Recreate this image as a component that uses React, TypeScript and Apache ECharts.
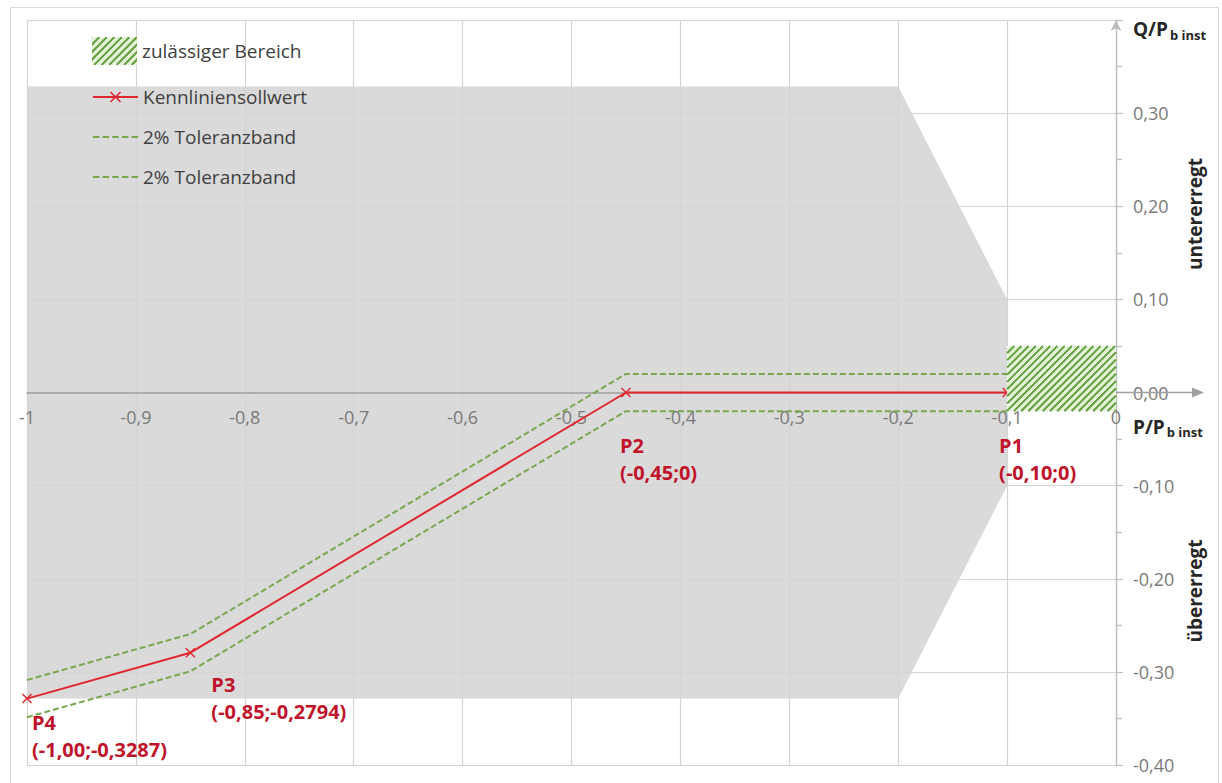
import React, { useEffect, useRef } from 'react';
import * as echarts from 'echarts';

// ---- data ----
const curveX = [-1, -0.85, -0.45, -0.1];
const curveY = [-0.3287, -0.2794, 0, 0];
const pointNames = ['P4', 'P3', 'P2', 'P1'];
const tolUpperY = [-0.3087, -0.2594, 0.02, 0.02];
const tolLowerY = [-0.3487, -0.2994, -0.02, -0.02];
const grayX = [-1, -0.2, -0.1, -0.1, -0.2, -1];
const grayY = [0.3287, 0.3287, 0.1, -0.1, -0.3287, -0.3287];
const allowedX = [-0.1, 0];
const allowedY = [-0.02, 0.05];
const xRange = [-1, 0];
const yRange = [-0.4, 0.4];
const seriesNames = {
  allowed: 'zulässiger Bereich',
  curve: 'Kennliniensollwert',
  tolUp: 'tolUp',
  tolLow: 'tolLow',
};
const legendLabels: Record<string, string> = {
  'zulässiger Bereich': 'zulässiger Bereich',
  Kennliniensollwert: 'Kennliniensollwert',
  tolUp: '2% Toleranzband',
  tolLow: '2% Toleranzband',
};
const sideLabels = ['untererregt', 'übererregt'];

// ---- layout / style (not data) ----
const W = 1222;
const H = 783;
const GRID = { left: 27, right: 106, top: 20, bottom: 18 };
const labelPos = [
  [10, 15],
  [26, 23],
  [-1, 44],
  [-3, 44],
];
const FONT = 'Open Sans';
const RED = '#e0262f';
const LABEL_RED = '#c0142b';
const GREEN = '#78a84e';
const HATCH = '#66a33c';
const HATCH_LIGHT = '#d6eac6';

const fmtX = (v: number) => v.toFixed(2).replace('.', ',');
const fmtY = (v: number) => (v === 0 ? '0' : v.toFixed(4).replace('.', ','));

function hatchIcon(w: number, h: number, step: number) {
  let s = `<svg xmlns="http://www.w3.org/2000/svg" width="${w}" height="${h}" viewBox="0 0 ${w} ${h}"><rect width="${w}" height="${h}" fill="#ffffff"/>`;
  for (let k = -h; k < w + h; k += step) {
    s += `<line x1="${k}" y1="${h}" x2="${k + h}" y2="0" stroke="${HATCH}" stroke-width="2.3"/>`;
    s += `<line x1="${k + step / 2}" y1="${h}" x2="${k + step / 2 + h}" y2="0" stroke="${HATCH_LIGHT}" stroke-width="1.2"/>`;
  }
  s += '</svg>';
  return 'image://data:image/svg+xml;charset=utf-8,' + encodeURIComponent(s);
}

const dashIcon =
  'path://M0,0h6v2h-6z M9,0h6v2h-6z M18,0h6v2h-6z M27,0h6v2h-6z M36,0h6v2h-6z';
const crossSymbol =
  'path://M0,1L1,0L5,4L9,0L10,1L6,5L10,9L9,10L5,6L1,10L0,9L4,5Z';

const nameRich = {
  a: { fontSize: 19, fontWeight: 'bold', color: '#262626', fontFamily: FONT, lineHeight: 24 },
  b: {
    fontSize: 13,
    fontWeight: 'bold',
    color: '#262626',
    fontFamily: FONT,
    lineHeight: 14,
    verticalAlign: 'bottom',
    padding: [0, 0, 0, 2],
  },
};

function buildOption(): any {
  const axisLabelStyle = { color: '#7a7a7a', fontSize: 18, fontFamily: FONT };
  const gridH = H - GRID.top - GRID.bottom;
  const zeroOffset = -gridH * ((0 - yRange[0]) / (yRange[1] - yRange[0]));
  const tickColor = '#bdbdbd';
  return {
    animation: false,
    backgroundColor: '#ffffff',
    textStyle: { fontFamily: FONT },
    grid: { ...GRID, containLabel: false, outerBoundsMode: 'none' },
    legend: [
      {
        show: true,
        orient: 'vertical',
        left: 92,
        top: 37,
        padding: 0,
        itemWidth: 45,
        itemHeight: 28,
        selectedMode: false,
        data: [{ name: seriesNames.allowed, icon: hatchIcon(45, 28, 7.5) }],
        formatter: (n: string) => legendLabels[n] ?? n,
        textStyle: { fontSize: 19, color: '#404040', fontFamily: FONT },
      },
      {
        show: true,
        orient: 'vertical',
        left: 92,
        top: 86,
        padding: 0,
        itemWidth: 45,
        itemHeight: 14,
        itemGap: 18,
        selectedMode: false,
        data: [
          { name: seriesNames.curve },
          { name: seriesNames.tolUp, icon: dashIcon },
          { name: seriesNames.tolLow, icon: dashIcon },
        ],
        formatter: (n: string) => legendLabels[n] ?? n,
        textStyle: { fontSize: 19, color: '#404040', fontFamily: FONT, lineHeight: 22 },
      },
    ],
    xAxis: {
      type: 'value',
      min: xRange[0],
      max: xRange[1],
      interval: 0.1,
      position: 'bottom',
      offset: zeroOffset,
      axisLine: { show: true, onZero: false, lineStyle: { color: '#a0a0a0', width: 1.6 } },
      axisTick: { show: false },
      axisLabel: {
        ...axisLabelStyle,
        margin: 15,
        formatter: (v: number) => {
          const r = Math.round(v * 10) / 10;
          return (r === 0 ? '0' : String(r)).replace('.', ',');
        },
      },
      splitLine: { show: true, lineStyle: { color: '#d4d4d4', width: 1.2 } },
      name: '{a|P/P}{b|b inst}',
      nameLocation: 'end',
      nameGap: 17,
      nameTextStyle: {
        align: 'left',
        verticalAlign: 'top',
        padding: [22, 0, 0, 0],
        rich: nameRich,
      },
    },
    yAxis: [
      {
        type: 'value',
        min: yRange[0],
        max: yRange[1],
        interval: 0.1,
        position: 'right',
        axisLine: {
          show: true,
          onZero: false,
          lineStyle: { color: tickColor, width: 1.3 },
          symbol: ['none', 'arrow'],
          symbolSize: [8, 11],
        },
        axisTick: { show: true, length: 7, lineStyle: { color: tickColor, width: 1.2 } },
        minorTick: { show: true, splitNumber: 2, length: 6, lineStyle: { color: tickColor, width: 1.2 } },
        minorSplitLine: { show: false },
        axisLabel: {
          ...axisLabelStyle,
          margin: 17,
          showMaxLabel: false,
          formatter: (v: number) => v.toFixed(2).replace('.', ','),
        },
        splitLine: { show: true, lineStyle: { color: '#d4d4d4', width: 1.2 } },
        name: '{a|Q/P}{b|b inst}',
        nameLocation: 'end',
        nameGap: 3,
        nameTextStyle: {
          align: 'left',
          verticalAlign: 'top',
          padding: [0, 0, 0, 17],
          rich: nameRich,
        },
      },
      {
        type: 'value',
        min: yRange[0],
        max: yRange[1],
        interval: 0.1,
        position: 'right',
        axisLine: { show: false, onZero: false },
        axisTick: { show: false },
        minorTick: { show: true, splitNumber: 2, length: 5, lineStyle: { color: tickColor, width: 1.2 } },
        axisLabel: { show: false, inside: true },
        splitLine: { show: false },
        minorSplitLine: { show: false },
      },
    ],
    series: [
      {
        type: 'custom',
        name: 'grayArea',
        z: -1,
        silent: true,
        data: grayX.map((x, i) => [x, grayY[i]]),
        encode: { x: 0, y: 1 },
        renderItem: (params: any, api: any) => {
          if (params.dataIndex !== 0) return null;
          const pts = grayX.map((x, i) => api.coord([x, grayY[i]]));
          return {
            type: 'polygon',
            shape: { points: pts },
            style: { fill: '#dadada', stroke: 'none' },
          };
        },
      },
      {
        type: 'line',
        name: seriesNames.tolUp,
        data: curveX.map((x, i) => [x, tolUpperY[i]]),
        symbol: 'none',
        itemStyle: { color: GREEN },
        lineStyle: { color: GREEN, width: 2, type: [6, 3] },
        z: 3,
      },
      {
        type: 'line',
        name: seriesNames.tolLow,
        data: curveX.map((x, i) => [x, tolLowerY[i]]),
        symbol: 'none',
        itemStyle: { color: GREEN },
        lineStyle: { color: GREEN, width: 2, type: [6, 3] },
        z: 3,
      },
      {
        type: 'line',
        name: seriesNames.curve,
        data: curveX.map((x, i) => ({
          value: [x, curveY[i]],
          label: { position: labelPos[i] },
        })),
        symbol: crossSymbol,
        symbolSize: 10,
        showSymbol: true,
        itemStyle: { color: RED },
        lineStyle: { color: RED, width: 2 },
        z: 4,
        label: {
          show: true,
          align: 'left',
          verticalAlign: 'top',
          color: LABEL_RED,
          fontSize: 20,
          fontWeight: 'bold',
          fontFamily: FONT,
          lineHeight: 27,
          formatter: (p: any) =>
            `${pointNames[p.dataIndex]}\n(${fmtX(p.value[0])};${fmtY(p.value[1])})`,
        },
      },
      {
        type: 'custom',
        name: seriesNames.allowed,
        z: 5,
        silent: true,
        itemStyle: { color: HATCH },
        data: [[allowedX[0], allowedY[0], allowedX[1], allowedY[1]]],
        encode: { x: [0, 2], y: [1, 3] },
        renderItem: (params: any, api: any) => {
          const tl = api.coord([api.value(0), api.value(3)]);
          const br = api.coord([api.value(2), api.value(1)]);
          const children: any[] = [
            {
              type: 'rect',
              shape: { x: tl[0], y: tl[1], width: br[0] - tl[0], height: br[1] - tl[1] },
              style: { fill: '#ffffff' },
            },
          ];
          const step = 7.2;
          for (let k = tl[0] + tl[1]; k <= br[0] + br[1]; k += step / 2) {
            const xa = Math.max(tl[0], k - br[1]);
            const xb = Math.min(br[0], k - tl[1]);
            if (xb - xa < 0.5) continue;
            const idx = Math.round((k - (tl[0] + tl[1])) / (step / 2));
            const dark = idx % 2 === 0;
            children.push({
              type: 'line',
              shape: { x1: xa, y1: k - xa, x2: xb, y2: k - xb },
              style: { stroke: dark ? HATCH : HATCH_LIGHT, lineWidth: dark ? 2.2 : 1.2 },
            });
          }
          return { type: 'group', children };
        },
      },
    ],
  };
}

export default function App() {
  const ref = useRef<HTMLDivElement>(null);
  useEffect(() => {
    if (!ref.current) return;
    const chart = echarts.init(ref.current, null, { renderer: 'svg' });
    chart.setOption(buildOption());
    const o = chart.convertToPixel({ gridIndex: 0 }, [0, 0]) as number[];
    const ax = o[0];
    const ay = o[1];
    chart.setOption({
      graphic: {
        elements: [
          {
            type: 'rect',
            z: -10,
            silent: true,
            shape: { x: 10.5, y: 7.5, width: 1208, height: 800 },
            style: { fill: 'none', stroke: '#d9d9d9', lineWidth: 1 },
          },
          {
            type: 'line',
            z: 10,
            silent: true,
            shape: { x1: ax, y1: ay, x2: ax + 80, y2: ay },
            style: { stroke: '#a0a0a0', lineWidth: 1.6 },
          },
          {
            type: 'polygon',
            z: 10,
            silent: true,
            shape: { points: [[ax + 88, ay], [ax + 76, ay - 5], [ax + 76, ay + 5]] },
            style: { fill: '#a0a0a0' },
          },
          {
            type: 'text',
            z: 10,
            x: ax + 79,
            y: 214,
            rotation: Math.PI / 2,
            style: {
              text: sideLabels[0],
              fill: '#262626',
              font: `bold 19px "${FONT}"`,
              align: 'center',
              verticalAlign: 'middle',
            },
          },
          {
            type: 'text',
            z: 10,
            x: ax + 79,
            y: 591,
            rotation: Math.PI / 2,
            style: {
              text: sideLabels[1],
              fill: '#262626',
              font: `bold 19px "${FONT}"`,
              align: 'center',
              verticalAlign: 'middle',
            },
          },
        ],
      },
    });
    return () => chart.dispose();
  }, []);
  return (
    <div
      ref={ref}
      style={{ position: 'fixed', left: 0, top: 0, width: W, height: H, background: '#ffffff' }}
    />
  );
}
